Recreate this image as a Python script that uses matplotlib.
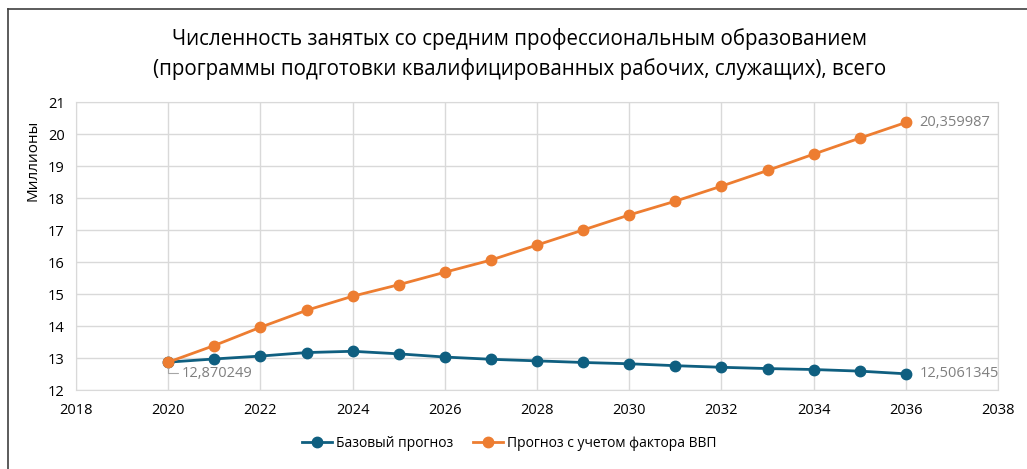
import matplotlib
matplotlib.use("Agg")
import matplotlib.pyplot as plt
from matplotlib.lines import Line2D

plt.rcParams['font.family'] = ['Open Sans', 'DejaVu Sans']

years = list(range(2020, 2037))
base = [12.870249, 12.97, 13.06, 13.17, 13.21, 13.13, 13.03, 12.96, 12.91,
        12.86, 12.82, 12.76, 12.71, 12.67, 12.64, 12.59, 12.5061345]
gdp = [12.870249, 13.39, 13.96, 14.49, 14.93, 15.29, 15.68, 16.06, 16.53,
       17.0, 17.47, 17.9, 18.37, 18.86, 19.37, 19.87, 20.359987]

title = ("Численность занятых со средним профессиональным образованием\n"
         "(программы подготовки квалифицированных рабочих, служащих), всего")
ylabel = "Миллионы"
names = ["Базовый прогноз", "Прогноз с учетом фактора ВВП"]
blue = "#0F5F80"
orange = "#ED7D31"
grey = "#D9D9D9"

fig = plt.figure(figsize=(10.27, 4.69), dpi=100)
ax = fig.add_axes([76/1027, 1-390/469, 922/1027, 288/469])

ax.plot(years, base, color=blue, lw=2, marker='o', ms=7.5, label=names[0], zorder=3)
ax.plot(years, gdp, color=orange, lw=2, marker='o', ms=7.5, label=names[1], zorder=4)

ax.set_xlim(2018, 2038)
ax.set_ylim(12, 21)
ax.set_xticks(range(2018, 2039, 2))
ax.set_yticks(range(12, 22))
ax.grid(True, color=grey, lw=1)
ax.set_axisbelow(True)
for s in ax.spines.values():
    s.set_color(grey)
ax.tick_params(length=0, labelsize=10.5, pad=8)
ax.tick_params(axis='x', pad=9)

lab = "#7F7F7F"
ax.annotate("12,870249", xy=(years[0], base[0]), xytext=(10, -8),
            textcoords='offset points', fontsize=10.5, color=lab,
            va='center', ha='left',
            arrowprops=dict(arrowstyle='-', color='#A6A6A6', lw=0.8,
                            connectionstyle='angle,angleA=0,angleB=90,rad=0',
                            shrinkA=1, shrinkB=0))
ax.annotate("20,359987", xy=(years[-1], gdp[-1]), xytext=(10, 0),
            textcoords='offset points', fontsize=10.5, color=lab, va='center')
ax.annotate("12,5061345", xy=(years[-1], base[-1]), xytext=(10, 0),
            textcoords='offset points', fontsize=10.5, color=lab, va='center')

fig.text(520/1027, 1-54/469, title, ha='center', va='center', fontsize=14.8,
         linespacing=1.42)
fig.text(33/1027, 1-160/469, ylabel, rotation=90, ha='center', va='center',
         fontsize=11)

fig.legend(loc='center', bbox_to_anchor=(509/1027, 1-443/469), ncol=2,
           frameon=False, fontsize=10, handlelength=2.2, handletextpad=0.25,
           columnspacing=1.4)

fig.add_artist(Line2D([8/1027, 8/1027], [0, 1-9/469], color='#404040', lw=1.2))
fig.add_artist(Line2D([8/1027, 1], [1-9/469, 1-9/469], color='#404040', lw=1.2))

fig.savefig("out.png", dpi=100)
